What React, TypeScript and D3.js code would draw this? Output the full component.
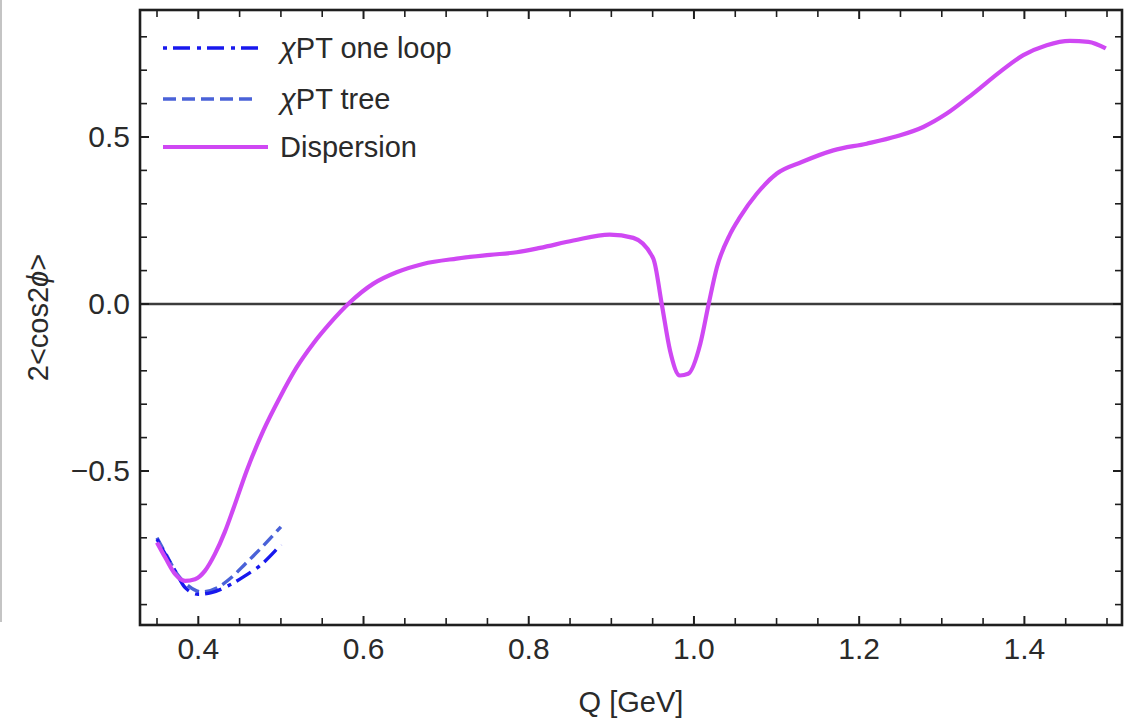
import React from "react";
import * as d3 from "d3";

const dispersionQ = [0.35, 0.36, 0.372, 0.384, 0.396, 0.408, 0.42, 0.432, 0.4424, 0.4586, 0.4787, 0.4989, 0.519, 0.539, 0.559, 0.5836, 0.612, 0.64, 0.672, 0.7128, 0.753, 0.7855, 0.8137, 0.854, 0.898, 0.9266, 0.9508, 0.961, 0.971, 0.983, 0.993, 1.0077, 1.0178, 1.0278, 1.0439, 1.0557, 1.076, 1.1, 1.1305, 1.1687, 1.209, 1.2455, 1.2776, 1.306, 1.338, 1.3705, 1.3987, 1.427, 1.455, 1.4775, 1.4985];
const dispersionV = [-0.714, -0.759, -0.809, -0.829, -0.824, -0.799, -0.749, -0.683, -0.613, -0.499, -0.379, -0.279, -0.19, -0.119, -0.059, 0.005, 0.061, 0.095, 0.12, 0.136, 0.147, 0.155, 0.168, 0.19, 0.208, 0.198, 0.136, 0.0, -0.139, -0.214, -0.209, -0.119, 0.0, 0.11, 0.21, 0.26, 0.33, 0.39, 0.425, 0.46, 0.48, 0.502, 0.53, 0.57, 0.63, 0.695, 0.745, 0.775, 0.788, 0.785, 0.765];

const oneLoopQ = [0.35, 0.36, 0.372, 0.384, 0.4, 0.416, 0.436, 0.4565, 0.4767, 0.493, 0.5];
const oneLoopV = [-0.704, -0.749, -0.799, -0.849, -0.869, -0.864, -0.844, -0.814, -0.779, -0.739, -0.72];

const treeQ = [0.35, 0.36, 0.376, 0.388, 0.404, 0.424, 0.44, 0.4565, 0.4767, 0.5];
const treeV = [-0.7, -0.745, -0.814, -0.844, -0.862, -0.848, -0.819, -0.779, -0.729, -0.667];

const xMajorTicks = [0.4, 0.6, 0.8, 1.0, 1.2, 1.4];
const xTickLabels = ["0.4", "0.6", "0.8", "1.0", "1.2", "1.4"];
const xMinorTicks = [0.35, 0.45, 0.5, 0.55, 0.65, 0.7, 0.75, 0.85, 0.9, 0.95, 1.05, 1.1, 1.15, 1.25, 1.3, 1.35, 1.45, 1.5];
const yMajorTicks = [-0.5, 0, 0.5];
const yTickLabels = ["\u22120.5", "0.0", "0.5"];
const yMinorTicks = [-0.9, -0.8, -0.7, -0.6, -0.4, -0.3, -0.2, -0.1, 0.1, 0.2, 0.3, 0.4, 0.6, 0.7, 0.8];

const legendLabels = ["one loop", "tree", "Dispersion"];

const W = 1135;
const H = 720;
const L = 140, R = 1122, T = 10, B = 625;

const x = d3.scaleLinear().domain([0.35, 1.5]).range([157, 1107]);
const y = d3.scaleLinear().domain([-0.5, 0.5]).range([471, 137]);

const FONT = "'Liberation Sans', Arial, Helvetica, sans-serif";
const TEXT = "#2a2a2a";
const FRAME = "#1e1e1e";
const C_DISP = "#cf48f3";
const C_LOOP = "#1818ee";
const C_TREE = "#4a62d8";

function mkLine(qs: number[], vs: number[]) {
  const pts: [number, number][] = qs.map((q, i) => [q, vs[i]]);
  return d3
    .line<[number, number]>()
    .x((d) => x(d[0]))
    .y((d) => y(d[1]))
    .curve(d3.curveMonotoneX)(pts) as string;
}

export default function App() {
  const majLen = 9;
  const minLen = 7;
  const legendY = [48, 99, 147];
  return (
    <div style={{ position: "absolute", left: 0, top: 0, width: W, height: H, background: "#fff" }}>
      <svg width={W} height={H} style={{ display: "block" }}>
        <rect x={0} y={0} width={W} height={H} fill="#fff" />
        <line x1={1} x2={1} y1={0} y2={622} stroke="#c4c4c4" strokeWidth={2} />
        <defs>
          <clipPath id="plotclip">
            <rect x={L} y={T} width={R - L} height={B - T} />
          </clipPath>
        </defs>
        {/* zero line */}
        <line x1={L} x2={R} y1={y(0)} y2={y(0)} stroke="#3c3c3c" strokeWidth={2.6} />
        {/* curves */}
        <g clipPath="url(#plotclip)" fill="none" strokeLinejoin="round">
          <path d={mkLine(treeQ, treeV)} stroke={C_TREE} strokeWidth={3.4} strokeDasharray="13,6" />
          <path d={mkLine(oneLoopQ, oneLoopV)} stroke={C_LOOP} strokeWidth={3.4} strokeDasharray="4,6,17,7" />
          <path d={mkLine(dispersionQ, dispersionV)} stroke={C_DISP} strokeWidth={4.2} />
        </g>
        {/* frame */}
        <rect x={L} y={T} width={R - L} height={B - T} fill="none" stroke={FRAME} strokeWidth={2.6} />
        {/* x ticks */}
        {xMajorTicks.map((t) => (
          <g key={"xm" + t}>
            <line x1={x(t)} x2={x(t)} y1={B} y2={B - majLen} stroke={FRAME} strokeWidth={2} />
            <line x1={x(t)} x2={x(t)} y1={T} y2={T + majLen} stroke={FRAME} strokeWidth={2} />
          </g>
        ))}
        {xMinorTicks.map((t) => (
          <g key={"xn" + t}>
            <line x1={x(t)} x2={x(t)} y1={B} y2={B - minLen} stroke={FRAME} strokeWidth={1.6} />
            <line x1={x(t)} x2={x(t)} y1={T} y2={T + minLen} stroke={FRAME} strokeWidth={1.6} />
          </g>
        ))}
        {xMajorTicks.map((t, i) => (
          <text key={"xl" + t} x={x(t)} y={659} textAnchor="middle" fontFamily={FONT} fontSize={30} fill={TEXT}>
            {xTickLabels[i]}
          </text>
        ))}
        {/* y ticks */}
        {yMajorTicks.map((t) => (
          <g key={"ym" + t}>
            <line x1={L} x2={L + majLen} y1={y(t)} y2={y(t)} stroke={FRAME} strokeWidth={2} />
            <line x1={R} x2={R - majLen} y1={y(t)} y2={y(t)} stroke={FRAME} strokeWidth={2} />
          </g>
        ))}
        {yMinorTicks.map((t) => (
          <g key={"yn" + t}>
            <line x1={L} x2={L + minLen} y1={y(t)} y2={y(t)} stroke={FRAME} strokeWidth={1.6} />
            <line x1={R} x2={R - minLen} y1={y(t)} y2={y(t)} stroke={FRAME} strokeWidth={1.6} />
          </g>
        ))}
        {yMajorTicks.map((t, i) => (
          <text key={"yl" + t} x={130} y={y(t) + 10} textAnchor="end" fontFamily={FONT} fontSize={30} fill={TEXT}>
            {yTickLabels[i]}
          </text>
        ))}
        {/* axis labels */}
        <text x={(L + R) / 2} y={712} textAnchor="middle" fontFamily={FONT} fontSize={29} fill={TEXT}>
          Q [GeV]
        </text>
        <text
          transform={`translate(48, ${(T + B) / 2}) rotate(-90)`}
          textAnchor="middle"
          fontFamily={FONT}
          fontSize={29}
          fill={TEXT}
        >
          2&lt;cos2<tspan fontStyle="italic">ϕ</tspan>&gt;
        </text>
        {/* legend */}
        <line x1={163} x2={258} y1={legendY[0]} y2={legendY[0]} stroke={C_LOOP} strokeWidth={3.4} strokeDasharray="4,6,17,7" />
        <line x1={163} x2={258} y1={legendY[1]} y2={legendY[1]} stroke={C_TREE} strokeWidth={3.4} strokeDasharray="13,6" />
        <line x1={163} x2={268} y1={legendY[2]} y2={legendY[2]} stroke={C_DISP} strokeWidth={4.2} />
        <text x={280} y={legendY[0] + 10} fontFamily={FONT} fontSize={29} fill={TEXT}>
          <tspan fontStyle="italic">χ</tspan>PT {legendLabels[0]}
        </text>
        <text x={280} y={legendY[1] + 10} fontFamily={FONT} fontSize={29} fill={TEXT}>
          <tspan fontStyle="italic">χ</tspan>PT {legendLabels[1]}
        </text>
        <text x={280} y={legendY[2] + 10} fontFamily={FONT} fontSize={29} fill={TEXT}>
          {legendLabels[2]}
        </text>
      </svg>
    </div>
  );
}
